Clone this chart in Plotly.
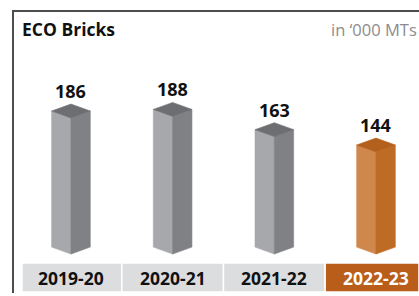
import plotly.graph_objects as go

# ---- data ----
categories = ["2019-20", "2020-21", "2021-22", "2022-23"]
values = [186, 188, 163, 144]
title_text = "ECO Bricks"
unit_text = "in \u2018000 MTs"

# ---- style / layout constants ----
W, H = 419, 296
FLOOR = 18          # value where the prisms are cut at the bottom
HALF_W = 0.19       # half width of a prism in x units
DEPTH = 8.6         # isometric depth in y units
X_RANGE = [-0.698, 3.423]
Y_RANGE = [-33.8, 331.7]
FONT = "Open Sans, Noto Sans, sans-serif"

gray = dict(left="#a7a8ab", right="#808184", top="#6d6e71")
orange = dict(left="#d0874c", right="#be6b26", top="#b4601d")

fig = go.Figure()


def poly(xs, ys, color):
    fig.add_trace(go.Scatter(
        x=xs + [xs[0]], y=ys + [ys[0]], mode="lines", fill="toself",
        fillcolor=color, line=dict(width=0.6, color=color),
        hoverinfo="skip", showlegend=False))


for i, (cat, v) in enumerate(zip(categories, values)):
    pal = orange if i == len(values) - 1 else gray
    c = i
    # left face
    poly([c - HALF_W, c, c, c - HALF_W],
         [v + DEPTH, v, FLOOR, FLOOR + DEPTH], pal["left"])
    # right face
    poly([c, c + HALF_W, c + HALF_W, c],
         [v, v + DEPTH, FLOOR + DEPTH, FLOOR], pal["right"])
    # top face
    poly([c, c - HALF_W, c, c + HALF_W],
         [v, v + DEPTH, v + 2 * DEPTH, v + DEPTH], pal["top"])
    fig.add_annotation(x=c, y=v + 2 * DEPTH, text=f"<b>{v}</b>",
                       showarrow=False, yanchor="bottom", xanchor="center",
                       yshift=-1,
                       font=dict(size=18, color="#111111", family=FONT))

# category strip
n = len(categories)
strip_y0, strip_y1 = 263, 292
for i, cat in enumerate(categories):
    x0 = i - 0.5 if i > 0 else -0.482
    x1 = i + 0.5 if i < n - 1 else X_RANGE[1]
    last = i == n - 1
    fig.add_shape(type="rect", xref="x", yref="paper",
                  x0=x0, x1=x1, y0=1 - strip_y1 / H, y1=1 - strip_y0 / H,
                  fillcolor="#b85e1a" if last else "#dcdddf",
                  line=dict(width=1.5, color="white"), layer="above")
    fig.add_annotation(x=i, xref="x", yref="paper",
                       y=1 - (strip_y0 + strip_y1) / 2 / H,
                       xanchor="center", yanchor="middle",
                       text=f"<b>{cat}</b>", showarrow=False,
                       font=dict(size=17.5, color="white" if last else "#111111",
                                 family=FONT))

# frame
fig.add_shape(type="line", xref="paper", yref="paper",
              x0=13 / W, x1=1, y0=1 - 11 / H, y1=1 - 11 / H,
              line=dict(color="#4d4d4f", width=2))
fig.add_shape(type="line", xref="paper", yref="paper",
              x0=13 / W, x1=13 / W, y0=1 - 10 / H, y1=1 - 293 / H,
              line=dict(color="#4d4d4f", width=2))

# title texts
fig.add_annotation(xref="paper", yref="paper", x=20 / W, y=1 - 29 / H,
                   xanchor="left", yanchor="middle", showarrow=False,
                   text=f"<b>{title_text}</b>",
                   font=dict(size=17.5, color="#111111", family=FONT))
fig.add_annotation(xref="paper", yref="paper", x=1, y=1 - 29 / H,
                   xanchor="right", yanchor="middle", showarrow=False,
                   text=unit_text,
                   font=dict(size=16.5, color="#8c8c8e", family=FONT))

fig.update_layout(
    width=W, height=H, margin=dict(l=0, r=0, t=0, b=0),
    paper_bgcolor="white", plot_bgcolor="white",
    xaxis=dict(range=X_RANGE, visible=False, fixedrange=True),
    yaxis=dict(range=Y_RANGE, visible=False, fixedrange=True),
    showlegend=False,
)

fig.write_html("out.html", config={"displayModeBar": False},
               post_script="document.body.style.margin='0';"
                           "document.body.style.overflow='hidden';")
